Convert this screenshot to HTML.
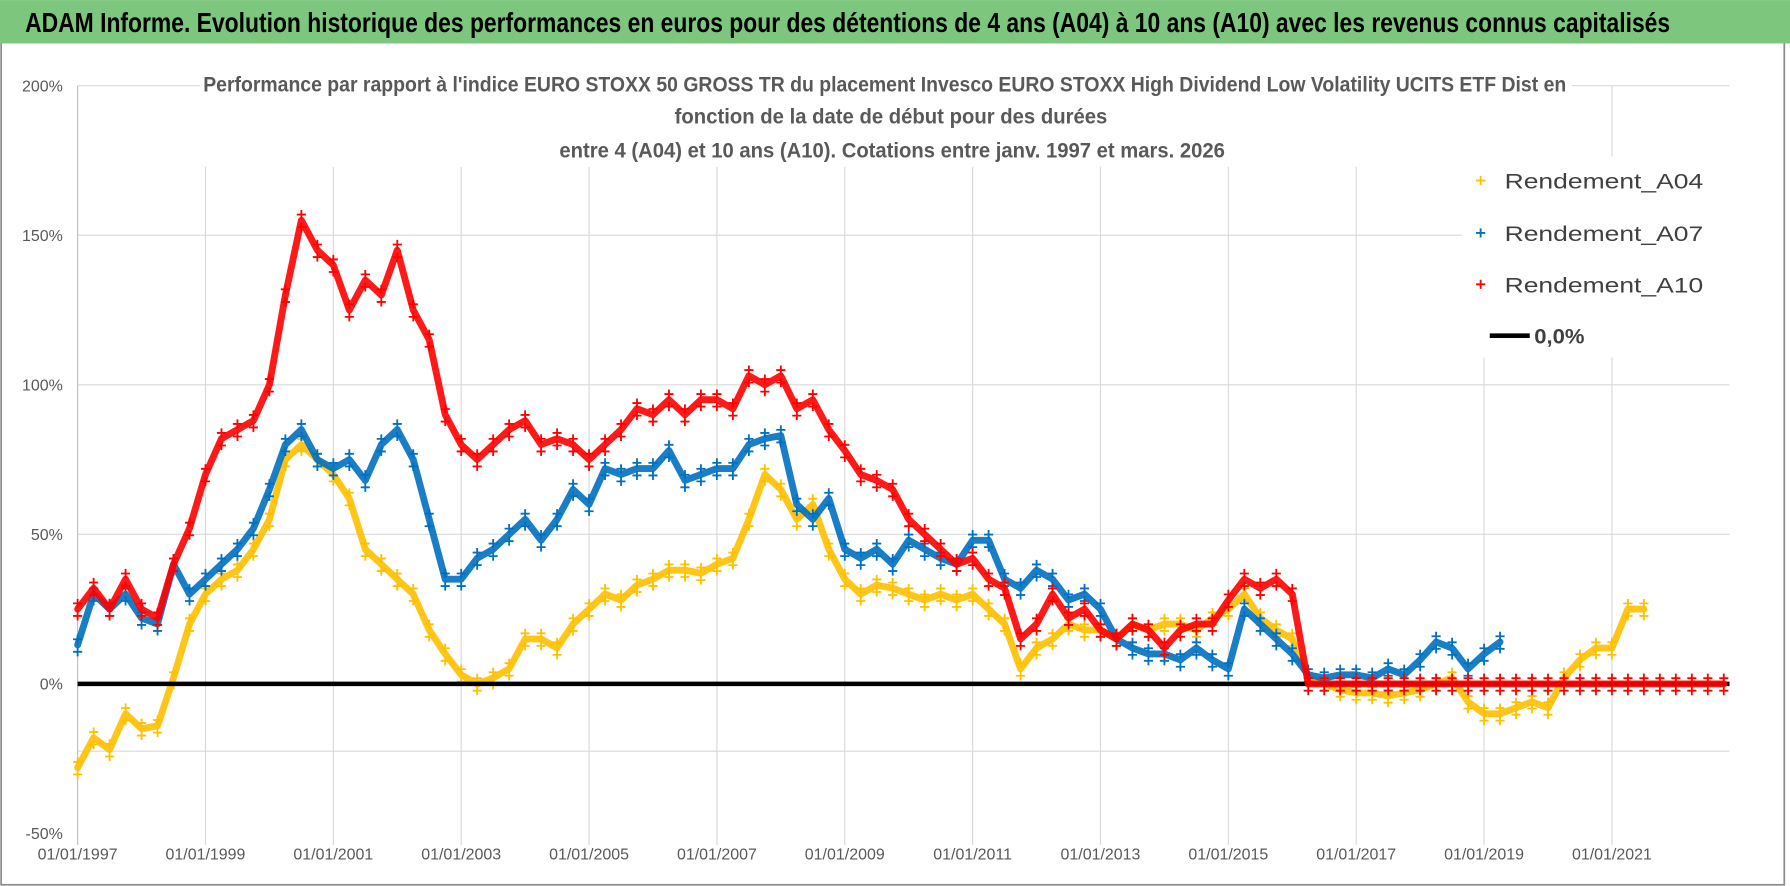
<!DOCTYPE html>
<html><head><meta charset="utf-8"><style>
html,body{margin:0;padding:0;background:#fff;}
svg{display:block;}
text{font-family:"Liberation Sans Narrow","Liberation Sans",sans-serif;}
</style></head><body>
<svg id="chart" width="1790" height="886" viewBox="0 0 1568 776" xmlns="http://www.w3.org/2000/svg">
  <rect x="0" y="0" width="1568" height="776" fill="#fff"/>
  <rect x="1" y="37" width="1562" height="738" fill="#fff" stroke="#8c8c8c" stroke-width="1.5"/>
  <rect x="0" y="0" width="1568" height="38" fill="#7dc67d"/>
  <text x="22" y="28" font-size="24" font-weight="bold" fill="#000" textLength="1441" lengthAdjust="spacingAndGlyphs">ADAM Informe. Evolution historique des performances en euros pour des détentions de 4 ans (A04) à 10 ans (A10) avec les revenus connus capitalisés</text>
  <g id="grid"></g>
  <g id="yaxis"></g>
  <g id="xaxis"></g>
  <g id="series"></g>
  <rect x="175" y="58" width="1202" height="88" fill="#fff"/>
  <g fill="#595959" font-size="19" font-weight="bold">
    <text x="178" y="80" textLength="1194" lengthAdjust="spacingAndGlyphs">Performance par rapport à l'indice EURO STOXX 50 GROSS TR  du placement Invesco EURO STOXX High Dividend Low Volatility UCITS ETF Dist en</text>
    <text x="591" y="108" textLength="379" lengthAdjust="spacingAndGlyphs">fonction de la date de début pour des durées</text>
    <text x="490" y="138" textLength="583" lengthAdjust="spacingAndGlyphs">entre 4 (A04) et 10 ans (A10). Cotations entre janv. 1997 et mars. 2026</text>
  </g>
  <rect x="1281" y="137" width="240" height="176" fill="#fff"/>
  <g font-size="19" fill="#404040">
    <g>
      <path d="M1293 158h8M1297 154v8" stroke="#ffc000" stroke-width="1.6"/>
      <text x="1318" y="165" textLength="174" lengthAdjust="spacingAndGlyphs">Rendement_A04</text>
    </g>
    <g>
      <path d="M1293 204h8M1297 200v8" stroke="#0070c0" stroke-width="1.6"/>
      <text x="1318" y="211" textLength="174" lengthAdjust="spacingAndGlyphs">Rendement_A07</text>
    </g>
    <g>
      <path d="M1293 249h8M1297 245v8" stroke="#ff0000" stroke-width="1.6"/>
      <text x="1318" y="256" textLength="174" lengthAdjust="spacingAndGlyphs">Rendement_A10</text>
    </g>
    <g>
      <line x1="1305" y1="294" x2="1340" y2="294" stroke="#000" stroke-width="4"/>
      <text x="1344" y="301" textLength="44" lengthAdjust="spacingAndGlyphs" font-weight="bold">0,0%</text>
    </g>
  </g>
</svg>
<script>
const xTickYears = [1997,1999,2001,2003,2005,2007,2009,2011,2013,2015,2017,2019,2021];
const xTickLabels = ["01/01/1997","01/01/1999","01/01/2001","01/01/2003","01/01/2005","01/01/2007","01/01/2009","01/01/2011","01/01/2013","01/01/2015","01/01/2017","01/01/2019","01/01/2021"];
const yTickValues = [200,150,100,50,0,-50];
const yTickLabels = ["200%","150%","100%","50%","0%","-50%"];
const startYear = 1997;
const stepYears = 0.25;
const rendementA04 = [-28,-18,-22,-10, -15,-14,2,20, 30,35,38,45, 55,75,80,75, 70,62,45,40, 35,30,18,10, 3,0,2,5, 15,15,12,20, 25,30,28,33, 35,38,38,37, 40,42,55,70, 65,55,60,45, 35,30,33,32, 30,28,30,28, 30,25,20,5, 12,15,20,18, 18,15,20,18, 20,20,18,22, 25,30,22,18, 15,2,0,-2, -3,-3,-4,-3, -2,0,2,-6, -10,-10,-8,-6, -8,2,8,12, 12,25,25];
const rendementA07 = [13,30,25,30, 22,20,40,30, 35,40,45,52, 65,80,85,75, 72,75,68,80, 85,75,55,35, 35,42,45,50, 55,48,55,65, 60,72,70,72, 72,78,68,70, 72,72,80,82, 83,60,55,62, 45,42,45,40, 48,45,42,40, 48,48,35,32, 38,35,28,30, 25,15,12,10, 10,8,12,8, 5,25,20,15, 10,3,2,3, 3,2,5,3, 8,14,12,5, 10,14];
const rendementA10 = [25,32,25,35, 25,22,40,52, 70,82,85,88, 100,130,155,145, 140,125,135,130, 145,125,115,90, 80,75,80,85, 88,80,82,80, 75,80,85,92, 90,95,90,95, 95,92,103,100, 103,92,95,85, 78,70,68,65, 55,50,45,40, 42,35,32,15, 20,30,22,25, 18,15,20,18, 12,18,20,20, 28,35,32,35, 30,0,0,0, 0,0,0,0, 0,0,0,0, 0,0,0,0, 0,0,0,0, 0,0,0,0, 0,0,0,0];
const zeroLine = [0,0];

const NS = "http://www.w3.org/2000/svg";
const plotLeft = 68, plotRight = 1515;
function xScale(yr){ return 68 + 56*(yr-1997); }
function yScale(v){ return 599 - v*2.62; }
function mk(tag, attrs, parent){ const e=document.createElementNS(NS,tag); for(const k in attrs) e.setAttribute(k,attrs[k]); parent.appendChild(e); return e; }

const grid = document.getElementById('grid');
yTickValues.forEach((v,i)=>{
  if(v>=-20){
    const l = mk('line',{x1:plotLeft,x2:plotRight,y1:yScale(v),y2:yScale(v),stroke:'#d9d9d9','stroke-width':1},grid);
    
    
  }
});
const gb = mk('line',{x1:plotLeft,x2:plotRight,y1:658,y2:658,stroke:'#d9d9d9','stroke-width':1},grid);


const gl = mk('line',{x1:plotLeft,x2:plotLeft,y1:75,y2:740,stroke:'#bfbfbf','stroke-width':1},grid);


xTickYears.forEach((yr,i)=>{
  if(i>0){
    const l = mk('line',{x1:xScale(yr),x2:xScale(yr),y1:75,y2:740,stroke:'#d9d9d9','stroke-width':1},grid);
    
    
  }
});
const yaxis = document.getElementById('yaxis');
yTickValues.forEach((v,i)=>{
  const t = mk('text',{x:55,y:yScale(v)+5,'text-anchor':'end','font-size':14,fill:'#595959'},yaxis);
  t.textContent = yTickLabels[i];
  
  
});
const xaxis = document.getElementById('xaxis');
xTickYears.forEach((yr,i)=>{
  const t = mk('text',{x:xScale(yr),y:753,'text-anchor':'middle','font-size':14,fill:'#595959'},xaxis);
  t.textContent = xTickLabels[i];
  
  
});

const series = document.getElementById('series');
function drawSeries(vals, color, name){
  const g = mk('g',{},series);
  
  
  let pts = vals.map((v,i)=> xScale(startYear+i*stepYears).toFixed(1)+','+yScale(v).toFixed(1)).join(' ');
  mk('polyline',{points:pts,fill:'none',stroke:color,'stroke-width':6,'stroke-linejoin':'round','stroke-linecap':'round',opacity:0.9},g);
  let d='';
  vals.forEach((v,i)=>{
    const x=xScale(startYear+i*stepYears), y=yScale(v);
    d+=`M${(x-4).toFixed(1)} ${(y-5).toFixed(1)}h8M${x.toFixed(1)} ${(y-9).toFixed(1)}v8M${(x-4).toFixed(1)} ${(y+6).toFixed(1)}h8M${x.toFixed(1)} ${(y+2).toFixed(1)}v8`;
  });
  mk('path',{d:d,stroke:color,'stroke-width':1.6,fill:'none'},g);
}
drawSeries(rendementA04,'#ffc000','series-rendement-a04');
drawSeries(rendementA07,'#0070c0','series-rendement-a07');
const zl = mk('line',{x1:plotLeft,x2:plotRight,y1:yScale(zeroLine[0]),y2:yScale(zeroLine[1]),stroke:'#000','stroke-width':4},series);


drawSeries(rendementA10,'#ff0000','series-rendement-a10');
</script>
</body></html>
